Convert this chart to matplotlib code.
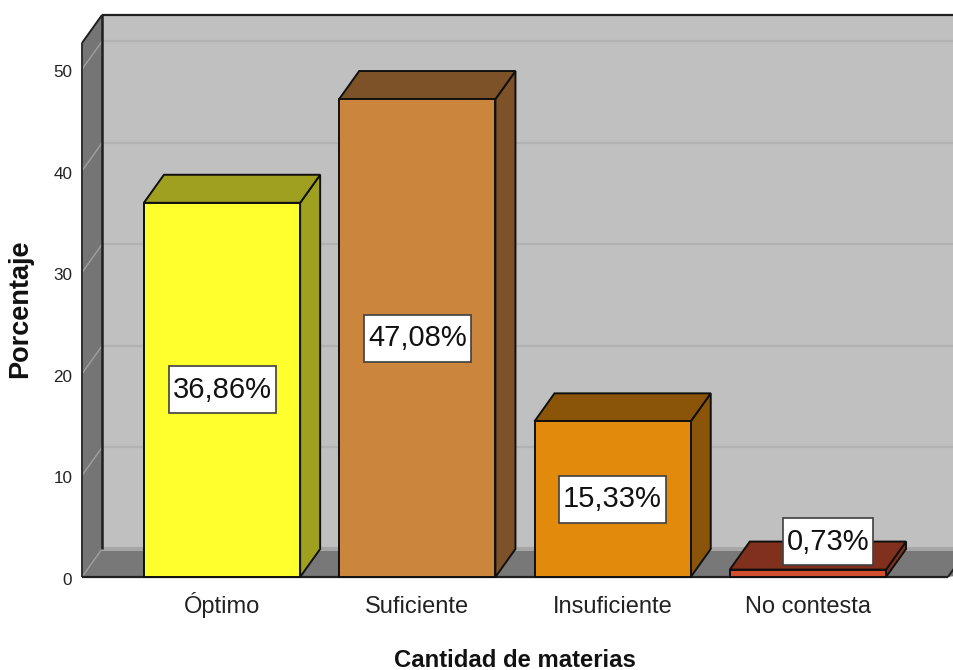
import matplotlib
matplotlib.use('Agg')
import matplotlib.pyplot as plt
from matplotlib.patches import Polygon
from matplotlib.path import Path
from matplotlib.transforms import ScaledTranslation

plt.rcParams['font.family'] = ['Liberation Sans', 'DejaVu Sans']

# datos del grafico
categorias = ['Óptimo', 'Suficiente', 'Insuficiente', 'No contesta']
porcentajes = [36.86, 47.08, 15.33, 0.73]
etiquetas = ['36,86%', '47,08%', '15,33%', '0,73%']
ticks_y = [0, 10, 20, 30, 40, 50]

# colores: frente y cara superior/lateral
color_frente = ['#FFFF2D', '#CC853D', '#E18A0C', '#D2502F']
color_lado = ['#A0A020', '#7D5228', '#8A5508', '#82301E']

# profundidad del efecto 3D, en unidades de los ejes
dx = 0.1024
dy = 2.76
ancho = 0.8
xmin, xmax = -0.717, 3.748
ymax = 52.6
fin_suelo = 3.717

fig = plt.figure(figsize=(9.54, 6.7), dpi=100)
ax = fig.add_axes([82 / 954, 93 / 670, 872 / 954, 534 / 670])
ax.set_xlim(xmin, xmax)
ax.set_ylim(0, ymax)
ax.patch.set_visible(False)
for s in ax.spines.values():
    s.set_visible(False)


def cara(puntos, color, z, borde='#101010', lw=1.4):
    ax.add_patch(Polygon(puntos, closed=True, facecolor=color, edgecolor=borde,
                         linewidth=lw, joinstyle='miter', clip_on=False, zorder=z))


def linea(xs, ys, color, lw, z):
    ax.plot(xs, ys, color=color, lw=lw, zorder=z, clip_on=False, solid_capstyle='butt')


def caja(x0, y0, w, h, mutation_size):
    # caja de la etiqueta: 4 px a los lados y 47 px de alto (unidades en pixeles)
    yc = y0 + h / 2
    x0, x1 = x0 - 4, x0 + w + 4
    y0, y1 = yc - 23.5, yc + 23.5
    return Path([(x0, y0), (x1, y0), (x1, y1), (x0, y1), (x0, y0)], closed=True)


# paredes y suelo
cara([(xmin + dx, dy), (xmin + dx, ymax + dy), (xmax + 1, ymax + dy), (xmax + 1, dy)], '#C0C0C0', 1, borde='none')
cara([(xmin, 0), (xmin + dx, dy), (xmax + 1, dy), (fin_suelo, 0)], '#787878', 2, borde='none')
cara([(xmin, 0), (xmin, ymax), (xmin + dx, ymax + dy), (xmin + dx, dy)], '#757575', 2, borde='none')
ax.fill_between([xmin + dx, xmax], dy - 0.15, dy + 0.2, color='#A6A6A6', lw=0, zorder=2)

# lineas de la cuadricula
for t in ticks_y[1:]:
    linea([xmin + dx, xmax], [t + dy, t + dy], '#B2B2B2', 1.6, 2)
for t in ticks_y:
    linea([xmin, xmin + dx], [t, t + dy], '#A0A0A0', 1, 3)

# bordes del recinto
linea([xmin + dx, xmax], [ymax + dy, ymax + dy], '#202020', 1.6, 3)
linea([xmin, xmin + dx], [ymax, ymax + dy], '#202020', 1.4, 3)
linea([xmin + dx, xmin + dx], [dy, ymax + dy], '#202020', 1.8, 3)
linea([xmin, xmin], [0, ymax], '#303030', 1.4, 3)
linea([xmin, fin_suelo], [0, 0], '#202020', 1.6, 3)
linea([fin_suelo, fin_suelo + dx], [0, dy], '#202020', 1.4, 3)

# barras
for i, v in enumerate(porcentajes):
    x0 = i - ancho / 2
    x1 = i + ancho / 2
    z = 4 + i
    cara([(x1, 0), (x1, v), (x1 + dx, v + dy), (x1 + dx, dy)], color_lado[i], z)
    cara([(x0, v), (x0 + dx, v + dy), (x1 + dx, v + dy), (x1, v)], color_lado[i], z)
    cara([(x0, 0), (x0, v), (x1, v), (x1, 0)], color_frente[i], z)

# etiquetas de valor
for i, v in enumerate(porcentajes):
    if v < 2:
        xt, yt = i + dx, v + dy
    else:
        xt, yt = i, v / 2
    ax.text(xt, yt, etiquetas[i], ha='center', va='center', fontsize=21, color='#111111', zorder=10,
            bbox=dict(boxstyle=caja, facecolor='white', edgecolor='#404040', linewidth=1.2))

ax.set_xticks(range(len(categorias)))
ax.set_xticklabels(categorias, fontsize=17, color='#222222')
ax.set_yticks(ticks_y)
ax.tick_params(axis='x', length=0, pad=26)
ax.tick_params(axis='y', length=0, pad=7, labelsize=12.3, labelcolor='#222222')
for lab in ax.get_xticklabels():
    lab.set_verticalalignment('baseline')
baja = ScaledTranslation(0, -2 / 100, fig.dpi_scale_trans)
for lab in ax.get_yticklabels():
    lab.set_transform(lab.get_transform() + baja)

ax.set_xlabel('Cantidad de materias', fontsize=17.2, fontweight='bold', color='#111111')
ax.xaxis.set_label_coords(0.497, -0.134)
ax.set_ylabel('Porcentaje', fontsize=19.5, fontweight='bold', color='#111111')
ax.yaxis.set_label_coords(-0.056, 0.503)

fig.savefig('out.png', dpi=100)
